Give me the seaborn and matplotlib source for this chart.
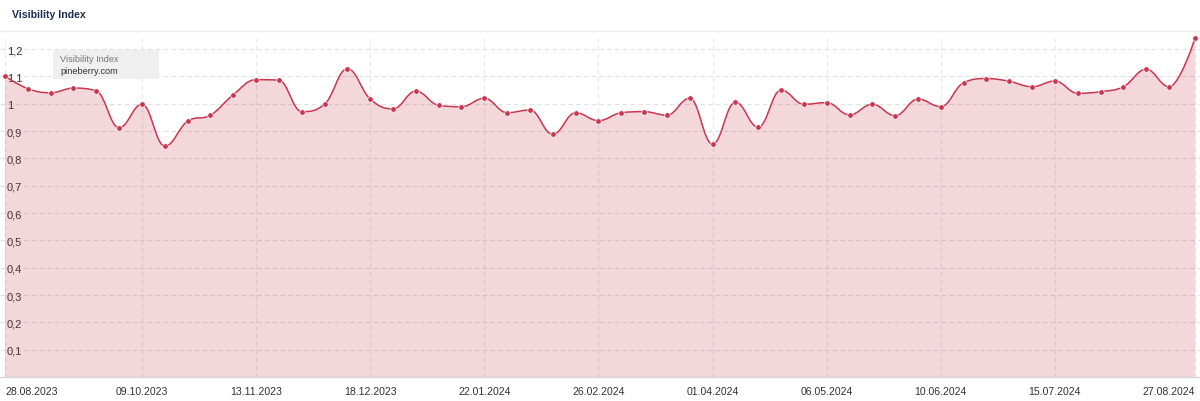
import numpy as np
import pandas as pd
import matplotlib
matplotlib.use('Agg')
import matplotlib.pyplot as plt
import matplotlib.dates as mdates
from matplotlib.path import Path
from matplotlib.patches import PathPatch, Rectangle
from matplotlib.lines import Line2D
import seaborn as sns

# weekly values, last point is one day late (27.08.2024)
dates = list(pd.date_range('2023-08-28', periods=52, freq='7D')) + [pd.Timestamp('2024-08-27')]
visibility = [1.101, 1.055, 1.040, 1.057, 1.047, 0.912, 0.998, 0.845, 0.936, 0.958,
              1.033, 1.088, 1.086, 0.971, 0.998, 1.128, 1.017, 0.981, 1.046, 0.994,
              0.989, 1.020, 0.967, 0.977, 0.888, 0.967, 0.938, 0.967, 0.971, 0.958,
              1.020, 0.852, 1.006, 0.914, 1.050, 0.998, 1.004, 0.959, 0.998, 0.956,
              1.017, 0.989, 1.077, 1.092, 1.082, 1.062, 1.083, 1.038, 1.044, 1.062,
              1.126, 1.062, 1.241]
tick_dates = ['2023-08-28', '2023-10-09', '2023-11-13', '2023-12-18', '2024-01-22', '2024-02-26',
              '2024-04-01', '2024-05-06', '2024-06-10', '2024-07-15', '2024-08-27']
tick_labels = ['28.08.2023', '09.10.2023', '13.11.2023', '18.12.2023', '22.01.2024', '26.02.2024',
               '01.04.2024', '06.05.2024', '10.06.2024', '15.07.2024', '27.08.2024']
y_ticks = [0.1, 0.2, 0.3, 0.4, 0.5, 0.6, 0.7, 0.8, 0.9, 1.0, 1.1, 1.2]
y_labels = ['0,1', '0,2', '0,3', '0,4', '0,5', '0,6', '0,7', '0,8', '0,9', '1', '1,1', '1,2']

LINE = '#c8374f'

sns.set_style('white')
plt.rcParams['font.family'] = ['Liberation Sans', 'DejaVu Sans']


def spline_path(x, y, close_to=None):
    # highcharts-like spline control points
    n = len(x)
    lc = [(x[i], y[i]) for i in range(n)]
    rc = [(x[i], y[i]) for i in range(n)]
    sm, den = 1.5, 2.5
    for i in range(1, n - 1):
        lx = (sm * x[i] + x[i - 1]) / den
        ly = (sm * y[i] + y[i - 1]) / den
        rx = (sm * x[i] + x[i + 1]) / den
        ry = (sm * y[i] + y[i + 1]) / den
        if rx != lx:
            corr = (ry - ly) * (rx - x[i]) / (rx - lx) + y[i] - ry
            ly += corr
            ry += corr
        if ly > max(y[i - 1], y[i]):
            ly = max(y[i - 1], y[i]); ry = 2 * y[i] - ly
        elif ly < min(y[i - 1], y[i]):
            ly = min(y[i - 1], y[i]); ry = 2 * y[i] - ly
        if ry > max(y[i], y[i + 1]):
            ry = max(y[i], y[i + 1]); ly = 2 * y[i] - ry
        elif ry < min(y[i], y[i + 1]):
            ry = min(y[i], y[i + 1]); ly = 2 * y[i] - ry
        lc[i] = (lx, ly)
        rc[i] = (rx, ry)
    verts = [(x[0], y[0])]
    codes = [Path.MOVETO]
    for i in range(1, n):
        verts += [rc[i - 1], lc[i], (x[i], y[i])]
        codes += [Path.CURVE4] * 3
    if close_to is not None:
        verts += [(x[-1], close_to), (x[0], close_to), (x[0], y[0])]
        codes += [Path.LINETO, Path.LINETO, Path.CLOSEPOLY]
    return Path(verts, codes)


W, H = 1200, 402
fig = plt.figure(figsize=(W / 100, H / 100), dpi=100)
ax = fig.add_axes([0, 24 / H, 1, 342 / H])

xnum = mdates.date2num(dates)
yv = np.array(visibility)

px_day = 3.2607
x0 = xnum[0] - 5.0 / px_day
ax.set_xlim(x0, x0 + W / px_day)
ax.set_ylim(0, 342 / 273.3)

# grid
for yt in y_ticks:
    ax.axhline(yt, color='#e0e0e0', lw=0.8, dashes=(4, 3), zorder=0)
for td in tick_dates:
    ax.axvline(mdates.date2num(pd.Timestamp(td)), color='#e8e8e8', lw=0.8, dashes=(4, 3), zorder=0)

ax.add_patch(PathPatch(spline_path(xnum, yv, close_to=0), facecolor=LINE, alpha=0.2, lw=0, zorder=1))
ax.add_patch(PathPatch(spline_path(xnum, yv), facecolor='none', edgecolor=LINE, lw=1.1, zorder=2))
sns.scatterplot(x=xnum, y=yv, ax=ax, color=LINE, s=16, edgecolor='white', linewidth=0.5, zorder=3, legend=False)

ax.axhline(0, color='#d4d4d4', lw=1.0, zorder=4, clip_on=False)

for s in ax.spines.values():
    s.set_visible(False)

ax.set_yticks(y_ticks)
ax.set_yticklabels(y_labels)
ax.tick_params(axis='y', length=0, pad=-5, labelsize=8, labelcolor='#333333')
for lbl in ax.get_yticklabels():
    lbl.set_horizontalalignment('left')

ax.set_xticks([mdates.date2num(pd.Timestamp(d)) for d in tick_dates])
ax.set_xticklabels(tick_labels)
ax.tick_params(axis='x', length=0, pad=6.5, labelsize=7.6, labelcolor='#333333')
xl = ax.get_xticklabels()
xl[0].set_horizontalalignment('left')
xl[-1].set_horizontalalignment('right')
ax.set_xlabel('')
ax.set_ylabel('')

# header
fig.text(12 / W, 1 - 15 / H, 'Visibility Index', fontsize=7.6, fontweight='bold',
         color='#1b2f52', va='center', ha='left')
fig.add_artist(Line2D([0, 1], [1 - 32 / H, 1 - 32 / H], transform=fig.transFigure,
                      color='#ececec', lw=1))

# legend box
fig.add_artist(Rectangle((53 / W, 1 - 80 / H), 106 / W, 29 / H, transform=fig.transFigure,
                         facecolor='#efefef', edgecolor='none', zorder=5))
fig.text(60 / W, 1 - 60 / H, 'Visibility Index', fontsize=6.6, color='#777777',
         va='center', ha='left', zorder=6)
fig.text(60 / W, 1 - 72 / H, 'pineberry.com', fontsize=6.6, color='#333333',
         va='center', ha='left', zorder=6)

fig.savefig('out.png', dpi=100)
